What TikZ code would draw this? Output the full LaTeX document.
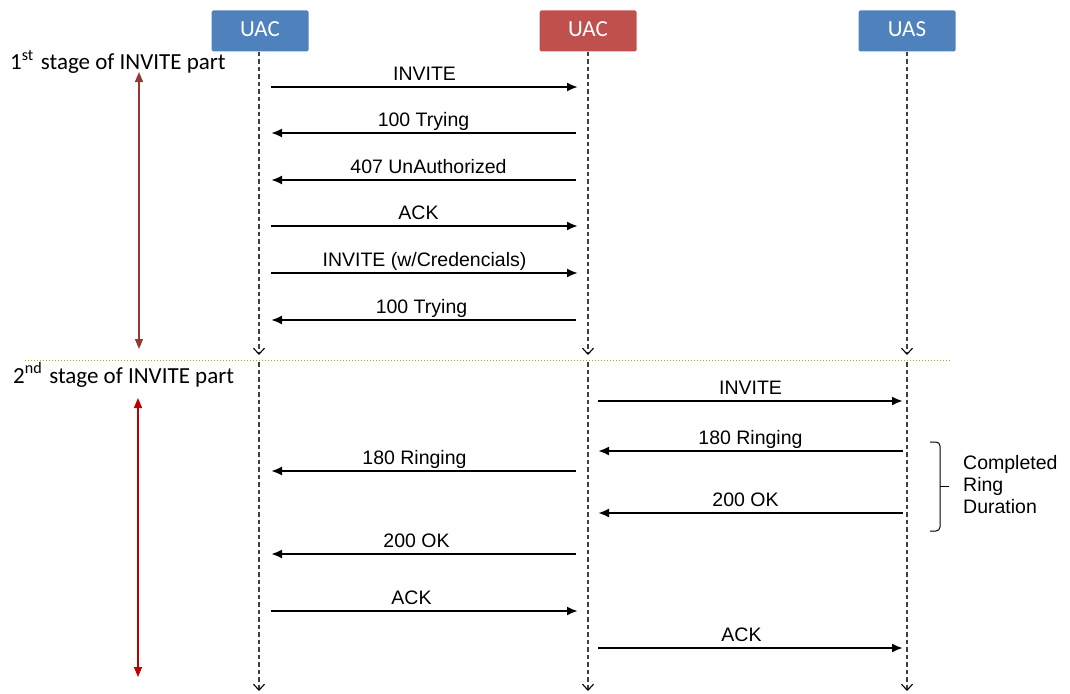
\documentclass[tikz,border=0pt]{standalone}
\usepackage{fontspec}
\setmainfont{Liberation Sans}
\newfontfamily\boxfont{Carlito}
\usetikzlibrary{arrows.meta,calc}

\definecolor{boxblue}{HTML}{4F81BD}
\definecolor{boxred}{HTML}{C0504D}
\definecolor{stageone}{HTML}{953735}
\definecolor{stagetwo}{HTML}{C00000}
\definecolor{sepgreen}{HTML}{8DB03E}
\definecolor{lifegray}{HTML}{404040}

\begin{document}
\begin{tikzpicture}[x=1pt,y=-1pt,
  actor/.style={rounded corners=1.5pt, minimum width=97pt, minimum height=41pt,
    inner sep=0pt, text=white, font=\boxfont\fontsize{23}{25}\selectfont},
  actortext/.style={text=white, inner sep=0pt, font=\boxfont\fontsize{23}{25}\selectfont},
  life/.style={lifegray, line width=1.4pt, dash pattern=on 4.5pt off 3pt,
    -{Straight Barb[length=6pt,width=11pt,line width=1.1pt,black]}},
  msg/.style={black, line width=2.1pt, -{Latex[length=11pt,width=9pt]}},
  lbl/.style={font=\fontsize{19.5}{21}\selectfont, inner sep=0pt, anchor=base, yshift=7pt},
  stagelbl/.style={font=\boxfont\fontsize{23}{25}\selectfont, inner sep=0pt, anchor=base west},
  stagearrow/.style={line width=1.3pt, {Triangle[length=10pt,width=8pt]}-{Triangle[length=10pt,width=8pt]}}
]
\useasboundingbox (0,0) rectangle (1070,693);

% participants
\node[actor, fill=boxblue] (uac1) at (260,31) {};
\node[actor, fill=boxred]  (uac2) at (588,31) {};
\node[actor, fill=boxblue] (uas)  at (907,31) {};
\node[actortext, anchor=base] (uac1t) at (260,37) {UAC};
\node[actortext, anchor=base] (uac2t) at (588,37) {UAC};
\node[actortext, anchor=base] (uast)  at (907,37) {UAS};

% lifeline anchors
\coordinate (a) at (259,0);
\coordinate (b) at (588,0);
\coordinate (c) at (907,0);

% lifelines, split at the stage separator
\foreach \p in {a,b,c}{
  \draw[life] (\p |- uac1.south) -- ($(\p)+(0,355)$);
  \draw[life] ($(\p)+(0,362)$) -- ($(\p)+(0,691)$);
}

% stage separator
\coordinate (sepL) at (25,360);
\coordinate (sepR) at (950,360);
\draw[sepgreen, line width=1pt, dotted] (sepL) -- (sepR);

% stage labels and spans
\node[stagelbl] (s1) at (10,70) {1\textsuperscript{st}\hspace{7pt}stage of INVITE part};
\node[stagelbl] (s2) at (13,383) {2\textsuperscript{nd}\hspace{7pt}stage of INVITE part};
\coordinate (s1t) at (139,72);  \coordinate (s1b) at (139,349);
\coordinate (s2t) at (138,398); \coordinate (s2b) at (138,677);
\draw[stagearrow, stageone] (s1t) -- (s1b);
\draw[stagearrow, stagetwo] (s2t) -- (s2b);

% first stage
\draw[msg] ($(a)+(12,87)$)  -- node[lbl]{INVITE} ($(b)+(-10,87)$);
\draw[msg] ($(b)+(-12,133)$) -- node[lbl]{100 Trying} ($(a)+(12,133)$);
\draw[msg] ($(b)+(-12,180)$) -- node[lbl, xshift=5pt]{407 UnAuthorized} ($(a)+(12,180)$);
\draw[msg] ($(a)+(12,226)$) -- node[lbl, xshift=-6pt]{ACK} ($(b)+(-10,226)$);
\draw[msg] ($(a)+(12,273)$) -- node[lbl]{INVITE (w/Credencials)} ($(b)+(-10,273)$);
\draw[msg] ($(b)+(-12,320)$) -- node[lbl, xshift=-2pt]{100 Trying} ($(a)+(12,320)$);

% second stage
\draw[msg] ($(b)+(10,401)$) -- node[lbl]{INVITE} ($(c)+(-4,401)$);
\draw[msg] ($(c)+(-4,451)$) -- node[lbl]{180 Ringing} ($(b)+(10,451)$);
\draw[msg] ($(b)+(-12,471)$) -- node[lbl, xshift=-9pt]{180 Ringing} ($(a)+(12,471)$);
\draw[msg] ($(c)+(-4,513)$) -- node[lbl, xshift=-5pt]{200 OK} ($(b)+(10,513)$);
\draw[msg] ($(b)+(-12,554)$) -- node[lbl, xshift=-7pt]{200 OK} ($(a)+(12,554)$);
\draw[msg] ($(a)+(12,611)$) -- node[lbl, xshift=-13pt]{ACK} ($(b)+(-10,611)$);
\draw[msg] ($(b)+(10,648)$) -- node[lbl, xshift=-9pt]{ACK} ($(c)+(-4,648)$);

% ring duration bracket
\coordinate (brT) at (930,442);
\coordinate (brB) at (930,531);
\coordinate (brM) at (940,486);
\draw[black, line width=1pt, rounded corners=4pt]
  (brT) -- (brT -| brM) -- (brB -| brM) -- (brB);
\draw[black, line width=1pt] (brM) -- ++(9,0);
\node[font=\fontsize{19.5}{22}\selectfont, align=left, anchor=west, inner sep=0pt]
  (ring) at (963,485) {Completed\\Ring\\Duration};
\end{tikzpicture}
\end{document}
